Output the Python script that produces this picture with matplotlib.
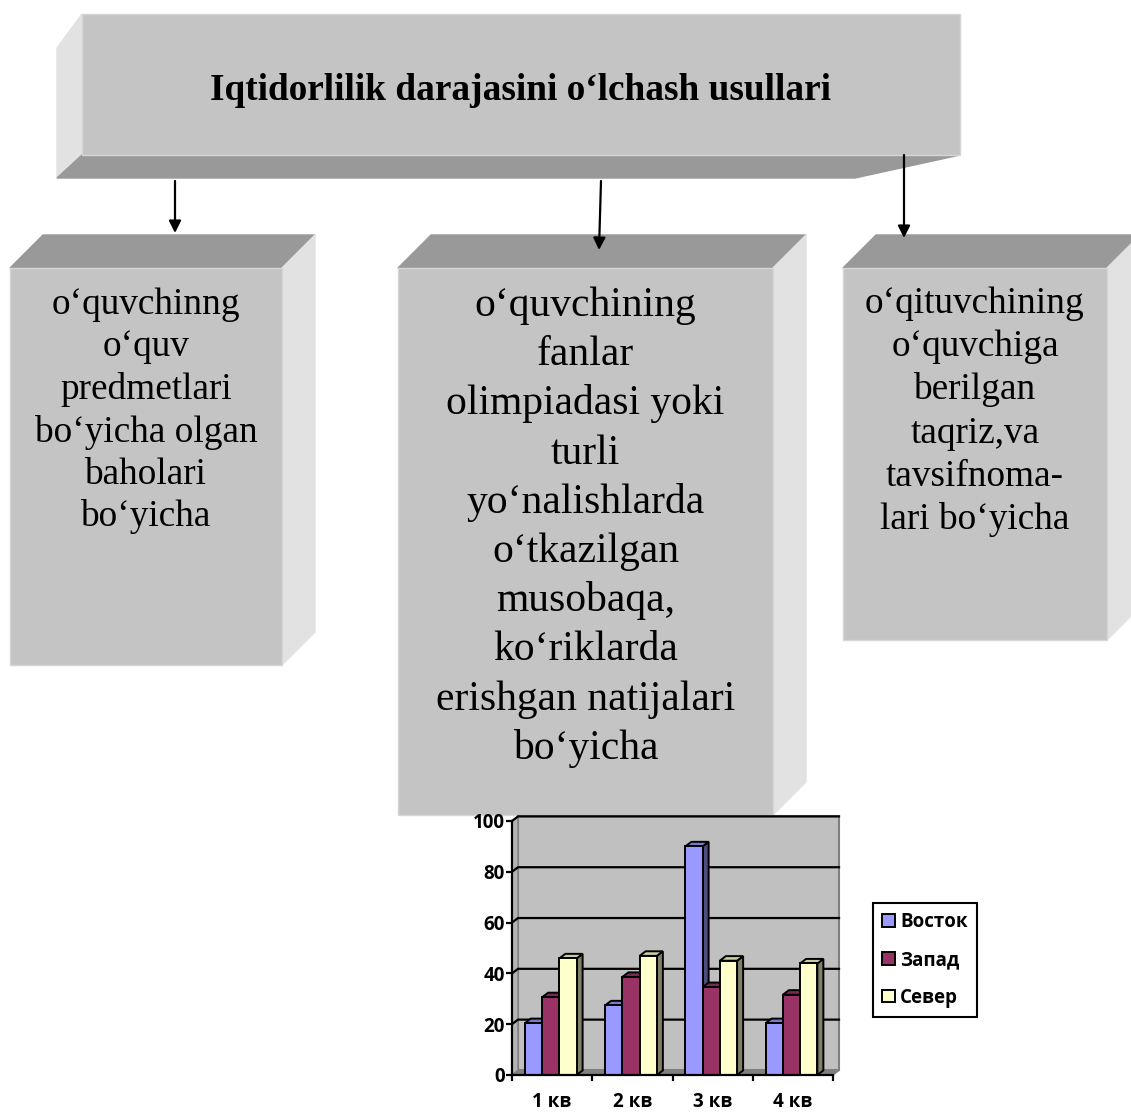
import matplotlib
matplotlib.use("Agg")
import matplotlib.pyplot as plt
from matplotlib.patches import Polygon, Patch

# chart data (Excel default sample)
quarters = ["1 кв", "2 кв", "3 кв", "4 кв"]
series_names = ["Восток", "Запад", "Север"]
vostok = [20.4, 27.4, 90, 20.4]
zapad = [30.6, 38.6, 34.6, 31.6]
sever = [45.9, 46.9, 45, 43.9]
y_ticks = [0, 20, 40, 60, 80, 100]

title_text = "Iqtidorlilik darajasini o\u2018lchash usullari"
left_lines = ["o\u2018quvchinng", "o\u2018quv", "predmetlari",
              "bo\u2018yicha olgan", "baholari", "bo\u2018yicha"]
mid_lines = ["o\u2018quvchining", "fanlar", "olimpiadasi yoki", "turli",
             "yo\u2018nalishlarda", "o\u2018tkazilgan", "musobaqa,",
             "ko\u2018riklarda", "erishgan natijalari", "bo\u2018yicha"]
right_lines = ["o\u2018qituvchining", "o\u2018quvchiga", "berilgan",
               "taqriz,va", "tavsifnoma-", "lari bo\u2018yicha"]

FRONT = "#c4c4c4"
DARK = "#999999"
LIGHT = "#e2e2e2"
SERIF = "Liberation Serif"
SANS = "Open Sans"

fig = plt.figure(figsize=(11.31, 11.15), dpi=100)
fig.patch.set_facecolor("white")

# ---- diagram layer, pixel coordinates
ax = fig.add_axes([0, 0, 1, 1])
ax.set_xlim(0, 1131)
ax.set_ylim(1115, 0)
ax.axis("off")


def poly(pts, color, edge=None, z=1):
    ax.add_patch(Polygon(pts, closed=True, facecolor=color,
                         edgecolor=edge if edge else color, lw=1, zorder=z))


# header block (depth goes left / down)
poly([(82, 14), (57, 48), (57, 178), (82, 155)], LIGHT)
poly([(82, 155), (960, 155), (855, 178), (57, 178)], DARK)
poly([(82, 14), (960, 14), (960, 155), (82, 155)], FRONT, "#d6d6d6")
ax.text(521, 100, title_text, family=SERIF, fontsize=26.8,
        fontweight="bold", ha="center", va="baseline", zorder=5)


def box(x0, x1, y0, y1, depth, lines, size, base, step):
    poly([(x0, y0), (x0 + depth, y0 - depth), (x1 + depth, y0 - depth), (x1, y0)], DARK)
    poly([(x1, y0), (x1 + depth, y0 - depth), (x1 + depth, y1 - depth), (x1, y1)], LIGHT)
    poly([(x0, y0), (x1, y0), (x1, y1), (x0, y1)], FRONT, "#d6d6d6")
    cx_ = (x0 + x1) / 2
    for i, ln in enumerate(lines):
        ax.text(cx_, base + i * step, ln, family=SERIF, fontsize=size,
                ha="center", va="baseline", zorder=5)


box(10, 282, 268, 665, 33, left_lines, 26.8, 314, 42.5)
box(398, 773, 268, 815, 33, mid_lines, 29.9, 316, 49.2)
box(843, 1107, 268, 640, 33, right_lines, 26.8, 313, 43.2)

for (xa, ya, xb, yb) in [(175, 181, 175, 233), (601, 181, 599, 250), (904, 155, 904, 238)]:
    ax.annotate("", xy=(xb, yb), xytext=(xa, ya),
                arrowprops=dict(arrowstyle="-|>", color="black", lw=1.6,
                                mutation_scale=18, shrinkA=0, shrinkB=0))

# ---- 3D-looking column chart
W, H = 1131, 1115
cx = fig.add_axes([512 / W, (H - 1075) / H, 321 / W, 254 / H])
cx.set_xlim(0, 4)
cx.set_ylim(0, 100)
cx.patch.set_alpha(0)

dx, dy = 0.075, 1.8  # depth offset in data units
wall_kw = dict(closed=True, clip_on=False)
cx.add_patch(Polygon([(dx, dy), (4 + dx, dy), (4 + dx, 100 + dy), (dx, 100 + dy)],
                     facecolor="#c0c0c0", edgecolor="#808080", lw=1.5, zorder=0, **wall_kw))
cx.add_patch(Polygon([(0, 0), (dx, dy), (dx, 100 + dy), (0, 100)],
                     facecolor="#b4b4b4", edgecolor="#808080", lw=1, zorder=0, **wall_kw))
cx.add_patch(Polygon([(0, 0), (4, 0), (4 + dx, dy), (dx, dy)],
                     facecolor="#808080", edgecolor="#808080", lw=1, zorder=0, **wall_kw))
for v in y_ticks[1:]:
    cx.plot([0, dx, 4 + dx], [v, v + dy, v + dy], color="black", lw=1.6,
            zorder=1, clip_on=False)

face = ["#9999ff", "#993366", "#ffffcc"]
side = ["#4d4d80", "#4d1a33", "#808066"]
top = ["#7a7acc", "#7a2952", "#cccca3"]
values = [vostok, zapad, sever]
bw, off = 0.215, 0.16
z = 2
for qi in range(len(quarters)):
    for si, vals in enumerate(values):
        x0 = qi + off + si * bw
        x1 = x0 + bw
        v = vals[qi]
        cx.add_patch(Polygon([(x1, 0), (x1 + dx, dy), (x1 + dx, v + dy), (x1, v)],
                             facecolor=side[si], edgecolor="black", lw=1.4,
                             zorder=z, **wall_kw))
        cx.add_patch(Polygon([(x0, v), (x0 + dx, v + dy), (x1 + dx, v + dy), (x1, v)],
                             facecolor=top[si], edgecolor="black", lw=1.4,
                             zorder=z, **wall_kw))
        cx.bar(x0, v, width=bw, align="edge", color=face[si], edgecolor="black",
               lw=1.4, zorder=z + 0.5)
        z += 1

for s in ["top", "right"]:
    cx.spines[s].set_visible(False)
for s in ["left", "bottom"]:
    cx.spines[s].set_linewidth(1.6)
    cx.spines[s].set_zorder(100)

cx.set_yticks(y_ticks)
cx.set_xticks([0, 1, 2, 3, 4])
cx.set_xticklabels([])
cx.set_xticks([0.5, 1.5, 2.5, 3.5], minor=True)
cx.set_xticklabels(quarters, minor=True)
cx.tick_params(axis="x", which="major", direction="out", length=4, width=1.6)
cx.tick_params(axis="x", which="minor", length=0, pad=12)
cx.tick_params(axis="y", direction="out", length=4, width=1.6, pad=1)
for lab in cx.get_yticklabels() + cx.get_xticklabels(minor=True):
    lab.set_fontfamily(SANS)
    lab.set_fontweight("bold")
    lab.set_fontsize(13.5)

handles = [Patch(facecolor=c, edgecolor="black", lw=1.4) for c in face]
leg = cx.legend(handles, series_names, loc="center left",
                bbox_to_anchor=(873 / W, (H - 960) / H), bbox_transform=fig.transFigure,
                borderaxespad=0, fancybox=False, framealpha=1, edgecolor="black",
                handlelength=0.65, handleheight=0.65, handletextpad=0.3,
                labelspacing=0.95, borderpad=0.5,
                prop={"family": SANS, "weight": "bold", "size": 13.5})
leg.get_frame().set_linewidth(1.5)

fig.savefig("out.png", dpi=100, facecolor="white")
